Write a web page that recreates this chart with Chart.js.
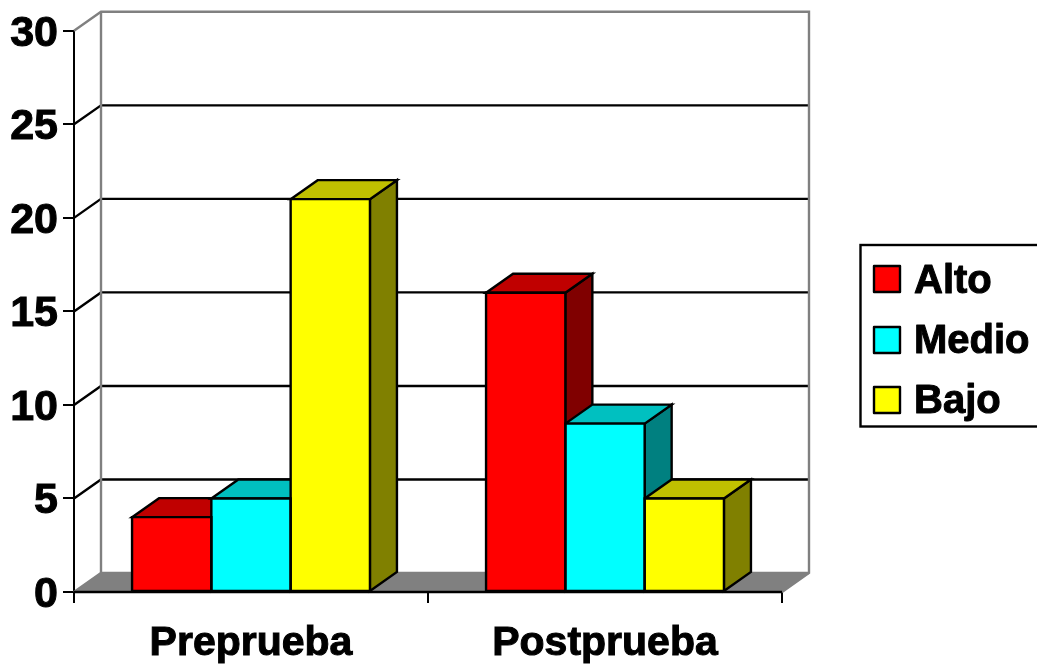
<!DOCTYPE html>
<html>
<head>
<meta charset="utf-8">
<style>
  html, body { margin: 0; padding: 0; background: #fff; }
  #wrap { width: 1037px; height: 669px; }
</style>
<script src="https://cdn.jsdelivr.net/npm/chart.js@4/dist/chart.umd.min.js"></script>
</head>
<body>
<div id="wrap"><canvas id="chart" width="1037" height="669"></canvas></div>
<script>
var categories = ['Preprueba', 'Postprueba'];
var alto = [4, 16];
var medio = [5, 9];
var bajo = [21, 5];
var seriesNames = ['Alto', 'Medio', 'Bajo'];
var frontColors = ['#FF0000', '#00FFFF', '#FFFF00'];
var topColors = ['#C00000', '#00C0C0', '#C0C000'];
var sideColors = ['#800000', '#008080', '#808000'];

var DX = 27, DY = -19;  // depth of the 3d box
var FAMILY = '"Liberation Sans", Arial, sans-serif';

function poly(ctx, pts, fill, stroke) {
  ctx.beginPath();
  ctx.moveTo(pts[0][0], pts[0][1]);
  for (var i = 1; i < pts.length; i++) ctx.lineTo(pts[i][0], pts[i][1]);
  if (fill) { ctx.closePath(); ctx.fillStyle = fill; ctx.fill(); }
  if (stroke) { ctx.strokeStyle = stroke; ctx.lineWidth = 2.4; ctx.lineJoin = 'miter'; ctx.stroke(); }
}

var wallPlugin = {
  id: 'wall',
  beforeDraw: function(chart) {
    // y labels sit a little lower than the tick in the original
    chart.scales.y.getLabelItems().forEach(function(item) {
      if (!item.moved) { item.options.translation[1] += 3; item.moved = true; }
    });
  },
  beforeDatasetsDraw: function(chart) {
    var ctx = chart.ctx, a = chart.chartArea, y = chart.scales.y;
    ctx.save();
    // floor
    poly(ctx, [[a.left, a.bottom], [a.right, a.bottom], [a.right + DX, a.bottom + DY], [a.left + DX, a.bottom + DY]], '#808080');
    // grid lines on side and back wall
    y.ticks.forEach(function(t) {
      if (t.value === 0 || t.value === y.max) return;
      var py = y.getPixelForValue(t.value);
      poly(ctx, [[a.left, py], [a.left + DX, py + DY], [a.right + DX, py + DY]], null, '#000');
    });
    // wall edges
    poly(ctx, [[a.left, a.top], [a.left + DX, a.top + DY], [a.right + DX, a.top + DY], [a.right + DX, a.bottom + DY], [a.right, a.bottom]], null, '#808080');
    poly(ctx, [[a.left + DX, a.top + DY], [a.left + DX, a.bottom + DY]], null, '#808080');
    poly(ctx, [[a.left, a.bottom], [a.left + DX, a.bottom + DY], [a.right + DX, a.bottom + DY]], null, '#808080');
    // top and side of each bar, left to right
    for (var c = 0; c < categories.length; c++) {
      chart.data.datasets.forEach(function(ds, d) {
        var b = chart.getDatasetMeta(d).data[c];
        var l = b.x - b.width / 2, r = b.x + b.width / 2, t = b.y, f = b.base;
        poly(ctx, [[r, f], [r + DX, f + DY], [r + DX, t + DY], [r, t]], sideColors[d], '#000');
        poly(ctx, [[l, t], [l + DX, t + DY], [r + DX, t + DY], [r, t]], topColors[d], '#000');
      });
    }
    ctx.restore();
  },
  afterDatasetsDraw: function(chart) {
    var ctx = chart.ctx, a = chart.chartArea;
    ctx.save();
    // outlines of the fronts, shared edges stay one line wide
    chart.data.datasets.forEach(function(ds, d) {
      chart.getDatasetMeta(d).data.forEach(function(b) {
        var l = b.x - b.width / 2, r = b.x + b.width / 2;
        poly(ctx, [[l, b.base], [l, b.y], [r, b.y], [r, b.base], [l, b.base]], null, '#000');
      });
    });
    poly(ctx, [[a.left, a.bottom], [a.right, a.bottom]], null, '#000');
    // legend
    ctx.lineWidth = 2.4;
    ctx.strokeStyle = '#000';
    ctx.strokeRect(860.5, 245, 190, 181.5);
    ctx.font = 'bold 40px ' + FAMILY;
    ctx.textBaseline = 'alphabetic';
    ctx.textAlign = 'left';
    ctx.lineJoin = 'round';
    var swatches = [266, 327, 387];
    var baselines = [293, 353, 413];
    chart.data.datasets.forEach(function(ds, d) {
      ctx.lineWidth = 2.4;
      ctx.fillStyle = frontColors[d];
      ctx.fillRect(874, swatches[d], 26, 26);
      ctx.strokeRect(874, swatches[d], 26, 26);
      ctx.fillStyle = '#000';
      ctx.lineWidth = 1;
      ctx.fillText(ds.label, 914, baselines[d]);
      ctx.strokeText(ds.label, 914, baselines[d]);
    });
    ctx.restore();
    ctx.lineJoin = 'round';  // for the axis label strokes drawn after this
  }
};

new Chart(document.getElementById('chart'), {
  type: 'bar',
  data: {
    labels: categories,
    datasets: [
      { label: seriesNames[0], data: alto, backgroundColor: frontColors[0] },
      { label: seriesNames[1], data: medio, backgroundColor: frontColors[1] },
      { label: seriesNames[2], data: bajo, backgroundColor: frontColors[2] }
    ]
  },
  options: {
    responsive: false,
    animation: false,
    layout: { padding: { top: 30, right: 255, left: 0, bottom: 0 } },
    datasets: { bar: { categoryPercentage: 0.672, barPercentage: 1, borderWidth: 0 } },
    plugins: { legend: { display: false }, tooltip: { enabled: false }, title: { display: false } },
    scales: {
      x: {
        grid: { drawOnChartArea: false, drawTicks: true, tickLength: 11, color: '#000', lineWidth: 2 },
        border: { color: '#000', width: 2 },
        ticks: { color: '#000', textStrokeColor: '#000', textStrokeWidth: 1, font: { family: FAMILY, size: 41, weight: 'bold' }, padding: 16, maxRotation: 0 },
        afterFit: function(s) { s.height = 77; }
      },
      y: {
        min: 0,
        max: 30,
        grid: { drawOnChartArea: false, drawTicks: true, tickLength: 11, color: '#000', lineWidth: 2 },
        border: { color: '#000', width: 2 },
        ticks: { stepSize: 5, color: '#000', textStrokeColor: '#000', textStrokeWidth: 1, font: { family: FAMILY, size: 43, weight: 'bold' }, padding: 5 },
        afterFit: function(s) { s.width = 74; }
      }
    }
  },
  plugins: [wallPlugin]
});
</script>
</body>
</html>
